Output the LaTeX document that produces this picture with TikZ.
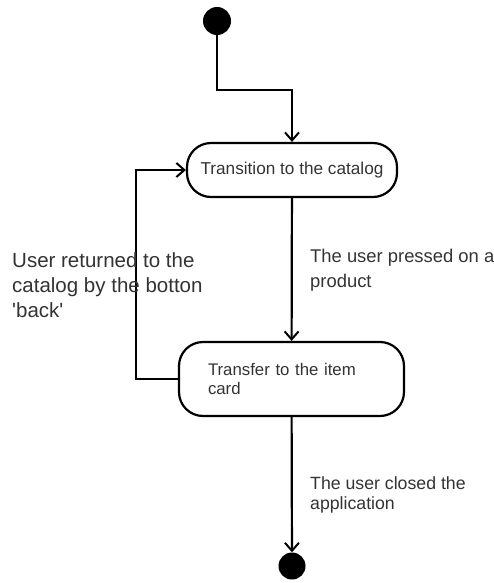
\documentclass[tikz,border=0pt]{standalone}
\usepackage{fontspec}
\setmainfont{Liberation Sans}
\usetikzlibrary{arrows.meta}
\definecolor{txt}{HTML}{333333}
\tikzset{
  conn/.style={line width=2.2pt,-{Straight Barb[length=8pt,width=14pt,line width=2pt]}},
  statebox/.style={draw,line width=2.2pt,rounded corners=24pt,inner sep=0pt},
  dot/.style={circle,fill=black,inner sep=0pt,minimum size=28pt},
  lbl/.style={text=txt,align=left,inner sep=0pt,anchor=north west},
}
\begin{document}
\begin{tikzpicture}[x=1pt,y=-1pt]
\useasboundingbox (0,0) rectangle (494,583);
\node[dot] (start) at (217,21) {};
\node[statebox,minimum width=210pt,minimum height=54pt,text=txt,font=\fontsize{17.2}{20}\selectfont] (s1) at (292,170) {\raisebox{-3pt}{Transition to the catalog}};
\node[statebox,minimum width=223pt,minimum height=74pt,text=txt,align=left,text width=167pt,inner xsep=29pt,font=\fontsize{16.8}{19.5}\selectfont] (s2) at (291.5,379) {Transfer to the item\\card};
\node[dot,minimum size=27pt] (end) at (292,566) {};
\coordinate (b1) at (292,90);
\coordinate (c1) at (136,379);
\coordinate (c2) at (136,170);
\draw[conn] (start) -- (start |- b1) -- (b1) -- (s1);
\draw[conn] (s1) -- (s2);
\draw[conn] (s2.west) -- (c1) -- (c2) -- (s1.west);
\draw[conn] (s2) -- (end);
\node[lbl,font=\fontsize{20.5}{25}\selectfont] (t1) at (12,252) {User returned to the\\catalog by the botton\\\textquotesingle back\textquotesingle};
\node[lbl,font=\fontsize{18.4}{25}\selectfont] (t2) at (310,249) {The user pressed on a\\product};
\node[lbl,font=\fontsize{17.7}{20}\selectfont] (t3) at (310,476) {The user closed the\\application};
\end{tikzpicture}
\end{document}
